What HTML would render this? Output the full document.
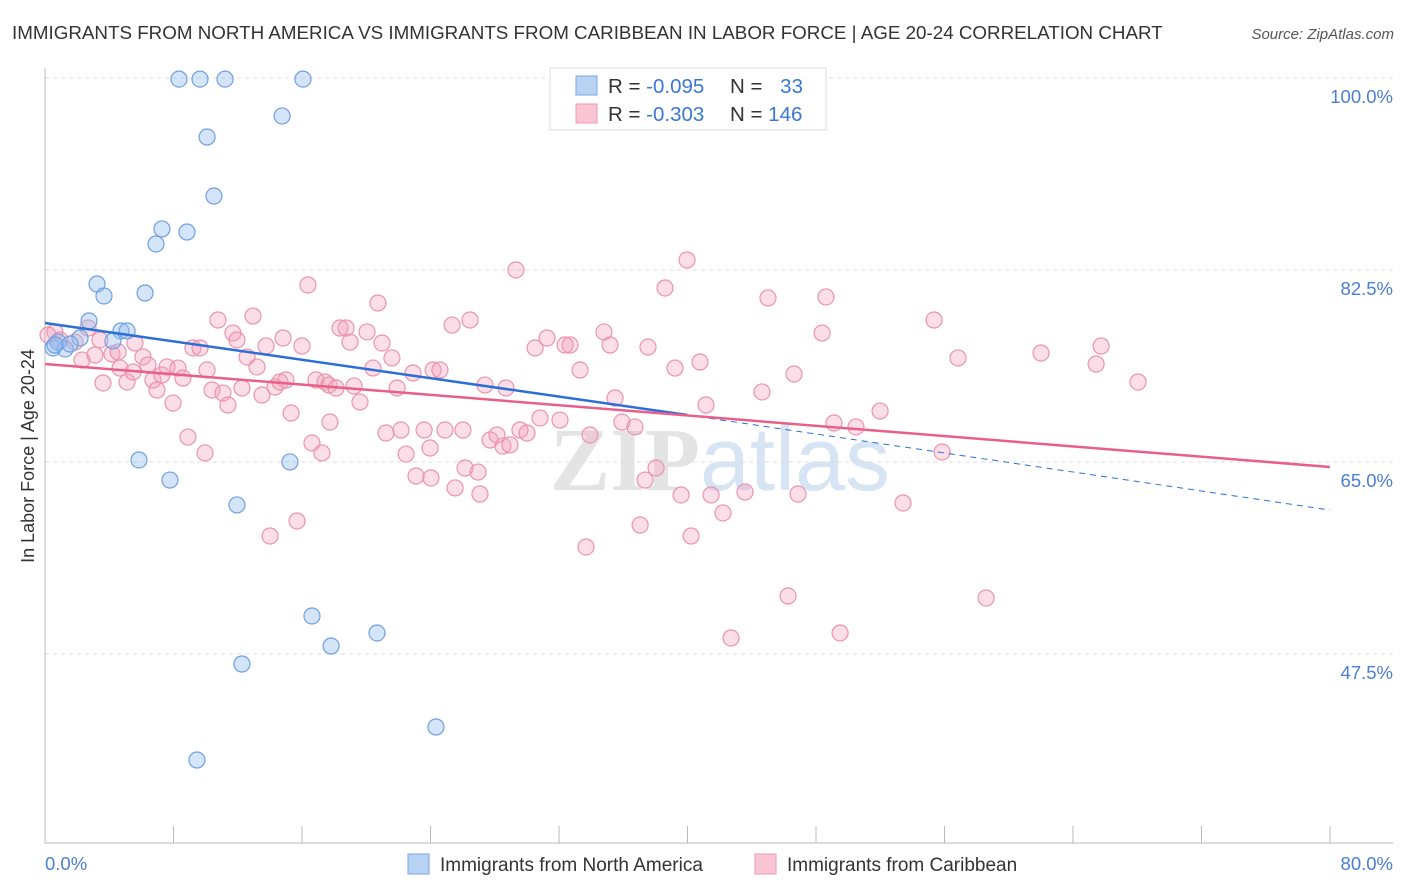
<!DOCTYPE html>
<html><head><meta charset="utf-8"><style>
body{margin:0;background:#fff;font-family:"Liberation Sans",sans-serif;}
#c{position:relative;width:1406px;height:892px;overflow:hidden}
</style></head><body>
<div id="c">
<svg id="s" width="1406" height="892" xmlns="http://www.w3.org/2000/svg">
<text x="12" y="39" font-size="18.8" fill="#333">IMMIGRANTS FROM NORTH AMERICA VS IMMIGRANTS FROM CARIBBEAN IN LABOR FORCE | AGE 20-24 CORRELATION CHART</text>
<text x="1394" y="39" font-size="15" fill="#555" font-style="italic" text-anchor="end">Source: ZipAtlas.com</text>
<text x="720" y="490" font-size="90" fill="#e4e4e4" text-anchor="middle" font-weight="bold" font-family="Liberation Serif,serif">ZIP<tspan fill="#d6e4f4" font-family="Liberation Sans,sans-serif" font-weight="normal">atlas</tspan></text>
<g id="grid"></g><g id="axes"></g><g id="pts"></g><g id="lines"></g>
<text transform="translate(34,456) rotate(-90)" font-size="18" fill="#333" text-anchor="middle">In Labor Force | Age 20-24</text>
<g>
<rect x="550" y="68" width="276" height="62" fill="#fff" stroke="#ddd"/>
<rect x="576" y="76" width="21" height="19" fill="#b8d2f4" stroke="#7aa6e4"/>
<rect x="576" y="104" width="21" height="19" fill="#f9c4d3" stroke="#ee9ab4"/>
<text x="608" y="93" font-size="20.5" fill="#333">R = <tspan fill="#3a78d6">-0.095</tspan></text>
<text x="730" y="93" font-size="20.5" fill="#333">N = <tspan fill="#3a78d6" dx="12">33</tspan></text>
<text x="608" y="121" font-size="20.5" fill="#333">R = <tspan fill="#3a78d6">-0.303</tspan></text>
<text x="730" y="121" font-size="20.5" fill="#333">N = <tspan fill="#3a78d6">146</tspan></text>
</g>
<g>
<rect x="408" y="854" width="21" height="20" fill="#b8d2f4" stroke="#7aa6e4"/>
<text x="440" y="871" font-size="19" fill="#333">Immigrants from North America</text>
<rect x="755" y="854" width="21" height="20" fill="#f9c4d3" stroke="#ee9ab4"/>
<text x="787" y="871" font-size="19" fill="#333">Immigrants from Caribbean</text>
</g>
</svg></div>
<script>
const yTicks=[100,82.5,65,47.5];
const xTickLabels=["0.0%","80.0%"];
const blueX=[8.34,9.65,11.21,16.06,14.76,10.09,10.52,7.28,6.91,8.84,3.24,3.67,6.23,2.74,4.73,5.11,4.23,2.18,0.5,1.25,0.81,5.85,7.78,15.25,11.95,16.62,20.67,17.81,12.26,24.34,9.46,0.62,1.56];
const blueY=[99.9,99.9,99.9,99.9,96.54,94.62,89.24,86.24,84.87,85.96,81.22,80.13,80.40,77.85,76.94,76.94,76.03,76.30,75.39,75.30,75.93,65.18,63.35,65.00,61.08,50.96,49.41,48.22,46.58,40.84,37.83,75.66,75.75];
const pinkX=[0.62,0.93,0.19,1.87,2.68,3.42,2.30,3.11,3.61,4.17,4.67,5.11,5.60,4.55,6.10,5.48,6.41,6.72,6.97,7.28,7.60,7.97,8.28,8.59,8.90,9.21,9.65,9.96,10.09,10.40,10.77,11.08,11.39,11.70,11.95,12.26,12.58,12.95,13.20,13.51,13.76,14.01,14.32,14.63,14.82,15.00,15.32,15.69,16.00,16.37,16.62,16.87,17.24,17.43,17.68,17.74,18.12,18.37,18.74,18.99,19.24,19.61,20.05,20.42,20.73,20.98,21.23,21.60,21.92,22.48,22.16,22.91,23.10,23.60,24.03,24.16,23.97,24.59,24.90,25.34,25.53,26.02,26.15,26.46,26.96,27.08,27.39,27.71,28.14,28.51,28.70,28.95,29.32,29.57,30.01,30.51,30.82,31.25,32.06,32.38,32.69,33.31,33.68,33.93,34.80,35.18,35.49,35.92,36.73,37.05,37.36,37.54,38.04,38.60,39.22,39.60,39.97,40.22,40.78,41.15,41.47,42.21,42.71,43.58,44.64,45.01,46.26,46.63,46.88,48.38,48.62,49.12,49.50,50.49,51.99,53.42,55.35,55.85,56.84,58.59,62.01,65.44,65.75,68.05];
const pinkY=[76.85,76.12,76.57,75.93,77.21,76.12,74.29,74.75,72.20,74.84,73.56,72.29,75.84,75.02,74.57,73.20,73.84,72.47,71.56,72.93,73.66,70.37,73.56,72.65,67.27,75.39,75.39,65.82,73.38,71.56,77.94,71.28,70.19,76.75,76.12,71.74,74.57,78.30,73.66,71.10,75.57,58.25,71.83,72.29,76.30,72.47,69.46,59.62,75.57,81.13,66.73,72.47,65.82,72.29,72.01,68.64,71.74,77.21,77.21,75.93,71.92,70.46,76.85,73.56,79.49,75.84,67.64,74.48,71.74,65.72,67.91,73.11,63.72,67.91,63.54,73.38,66.27,73.38,67.91,77.48,62.63,67.91,64.45,77.94,64.08,62.08,72.01,67.00,67.46,66.45,71.74,66.55,82.50,67.91,67.64,75.39,69.01,76.30,68.82,75.66,75.66,73.38,57.25,67.46,76.85,75.66,70.83,68.64,68.19,59.25,63.35,75.48,64.45,80.86,73.56,61.99,83.41,58.25,74.11,70.19,61.99,60.35,48.95,62.26,71.38,79.95,52.78,73.02,62.08,76.75,80.04,68.55,49.41,68.19,69.64,61.26,77.94,65.91,74.48,52.60,74.93,73.93,75.57,72.29];
const blueTrend=[77.67,69.28,60.62];
const pinkTrend=[73.93,64.54];
const NS="http://www.w3.org/2000/svg";
const L=45,R=1330,T=78,PX=10.97;
const sx=v=>L+v/80*(R-L), sy=v=>T+(100-v)*PX;
function mk(tag,a,parent){const e=document.createElementNS(NS,tag);for(const k in a)e.setAttribute(k,a[k]);document.getElementById(parent).appendChild(e);return e;}
yTicks.forEach(t=>{
 const g=mk('line',{x1:L,x2:1393,y1:sy(t),y2:sy(t),stroke:'#ddd','stroke-dasharray':'4 4'},'grid');
 
 
 const tx=mk('text',{x:1393,y:sy(t)+25,'font-size':18.5,fill:'#4a7fd4','text-anchor':'end'},'grid');
 tx.textContent=t.toFixed(1)+'%';
 
 
});
const ya=mk('line',{x1:L,x2:L,y1:68,y2:843,stroke:'#bbb'},'axes');


const xa=mk('line',{x1:L,x2:1393,y1:843,y2:843,stroke:'#bbb'},'axes');


for(let i=0;i<=10;i++){const tk=mk('line',{x1:sx(i*8),x2:sx(i*8),y1:826,y2:843,stroke:'#bbb'},'axes');
 
 }
const x0=mk('text',{x:45,y:870,'font-size':18.5,fill:'#4a7fd4'},'axes');x0.textContent=xTickLabels[0];


const x1=mk('text',{x:1393,y:870,'font-size':18.5,fill:'#4a7fd4','text-anchor':'end'},'axes');x1.textContent=xTickLabels[1];


pinkX.forEach((x,i)=>{const c=mk('circle',{cx:sx(x),cy:sy(pinkY[i]),r:8,fill:'rgba(244,160,186,0.35)',stroke:'#eb93ae','stroke-width':1.2},'pts');
 
 });
blueX.forEach((x,i)=>{const c=mk('circle',{cx:sx(x),cy:sy(blueY[i]),r:8,fill:'rgba(150,190,240,0.4)',stroke:'#6f9fe0','stroke-width':1.2},'pts');
 
 });
const b1=mk('line',{x1:sx(0),y1:sy(blueTrend[0]),x2:sx(40),y2:sy(blueTrend[1]),stroke:'#2b6fd6','stroke-width':2.5},'lines');


const b2=mk('line',{x1:sx(40),y1:sy(blueTrend[1]),x2:sx(80),y2:sy(blueTrend[2]),stroke:'#2b6fd6','stroke-width':1,'stroke-dasharray':'6 5'},'lines');


const p1=mk('line',{x1:sx(0),y1:sy(pinkTrend[0]),x2:sx(80),y2:sy(pinkTrend[1]),stroke:'#e8608a','stroke-width':2.5},'lines');


</script>
</body></html>
